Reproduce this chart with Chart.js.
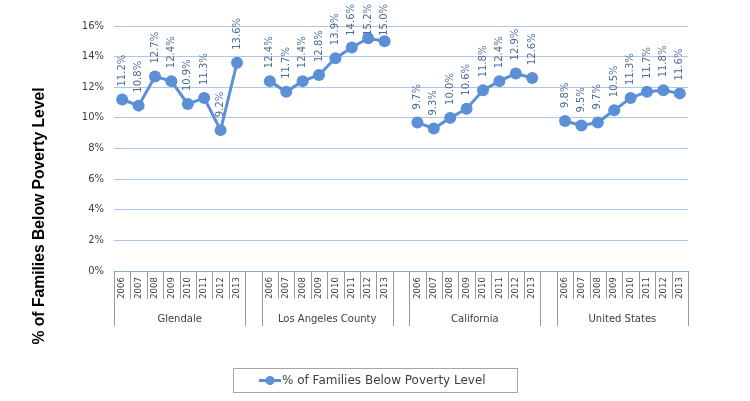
<!DOCTYPE html>
<html>
<head>
<meta charset="utf-8">
<script src="https://cdn.jsdelivr.net/npm/chart.js@4"></script>
<style>
html,body{margin:0;padding:0;background:#fff;}
canvas{display:block;}
</style>
</head>
<body>
<canvas id="c" width="750" height="401"></canvas>
<script>
const groups = ['Glendale', 'Los Angeles County', 'California', 'United States'];
const years = ['2006', '2007', '2008', '2009', '2010', '2011', '2012', '2013'];
const glendale = [11.2, 10.8, 12.7, 12.4, 10.9, 11.3, 9.2, 13.6];
const laCounty = [12.4, 11.7, 12.4, 12.8, 13.9, 14.6, 15.2, 15.0];
const california = [9.7, 9.3, 10.0, 10.6, 11.8, 12.4, 12.9, 12.6];
const unitedStates = [9.8, 9.5, 9.7, 10.5, 11.3, 11.7, 11.8, 11.6];
const yTicks = [0, 2, 4, 6, 8, 10, 12, 14, 16];
const seriesName = '% of Families Below Poverty Level';
const axisTitle = '% of Families Below Poverty Level';

const groupSeries = [glendale, laCounty, california, unitedStates];
const labels = [];
const values = [];
const groupOf = [];
groupSeries.forEach((arr, gi) => {
  years.forEach((y, i) => { labels.push(y); values.push(arr[i]); groupOf.push(gi); });
  if (gi < groupSeries.length - 1) { labels.push(''); values.push(null); groupOf.push(-1); }
});

const LINE = '#5b8fd6';
const LABEL = '#4d6b94';
const TEXT = '#404040';

const customPlugin = {
  id: 'custom',
  afterDatasetsDraw(chart) {
    const ctx = chart.ctx;
    const meta = chart.getDatasetMeta(0);
    ctx.save();
    ctx.fillStyle = LABEL;
    ctx.font = '10px "DejaVu Sans"';
    ctx.textAlign = 'left';
    ctx.textBaseline = 'middle';
    meta.data.forEach((pt, i) => {
      const v = values[i];
      if (v === null || v === undefined) return;
      const txt = v.toFixed(1) + '%';
      const w = ctx.measureText(txt).width;
      const start = Math.max(pt.y - 13, 4 + w);
      ctx.save();
      ctx.translate(pt.x, start);
      ctx.rotate(-Math.PI / 2);
      ctx.fillText(txt, 0, 0);
      ctx.restore();
    });
    ctx.restore();
  },
  afterDraw(chart) {
    const ctx = chart.ctx;
    const xs = chart.scales.x;
    const area = chart.chartArea;
    const n = labels.length;
    const slot = (area.right - area.left) / n;
    const top = area.bottom;
    const yearBottom = top + 28;
    const groupBottom = top + 55;
    ctx.save();
    ctx.strokeStyle = '#9a9a9a';
    ctx.lineWidth = 1;
    for (let i = 0; i <= n; i++) {
      const x = Math.round(xs.getPixelForValue(Math.min(i, n - 1)) + (i === n ? slot / 2 : -slot / 2)) + 0.5;
      const leftIsYear = i > 0 && groupOf[i - 1] >= 0;
      const rightIsYear = i < n && groupOf[i] >= 0;
      const sameGroup = leftIsYear && rightIsYear && groupOf[i - 1] === groupOf[i];
      ctx.beginPath();
      ctx.moveTo(x, top);
      ctx.lineTo(x, sameGroup ? yearBottom : groupBottom);
      ctx.stroke();
    }
    ctx.fillStyle = TEXT;
    ctx.font = '8.5px "DejaVu Sans"';
    ctx.textAlign = 'center';
    ctx.textBaseline = 'middle';
    labels.forEach((lab, i) => {
      if (!lab) return;
      const x = xs.getPixelForValue(i);
      ctx.save();
      ctx.translate(x, top + 17);
      ctx.rotate(-Math.PI / 2);
      ctx.fillText(lab, 0, 0);
      ctx.restore();
    });
    ctx.font = '10px "DejaVu Sans"';
    groups.forEach((g, gi) => {
      const idx = [];
      groupOf.forEach((v, i) => { if (v === gi) idx.push(i); });
      const x0 = xs.getPixelForValue(idx[0]);
      const x1 = xs.getPixelForValue(idx[idx.length - 1]);
      ctx.fillText(g, (x0 + x1) / 2, top + 48);
    });
    ctx.font = 'bold 15.7px "Liberation Sans"';
    ctx.fillStyle = '#000';
    ctx.save();
    ctx.translate(40, 216);
    ctx.rotate(-Math.PI / 2);
    ctx.fillText(axisTitle, 0, 0);
    ctx.restore();
    const lx = 233.5, ly = 368.5, lw = 284, lh = 24;
    ctx.strokeStyle = '#a6a6a6';
    ctx.strokeRect(lx, ly, lw, lh);
    const cy = ly + lh / 2;
    ctx.strokeStyle = LINE;
    ctx.lineWidth = 3;
    ctx.beginPath();
    ctx.moveTo(259, cy);
    ctx.lineTo(281, cy);
    ctx.stroke();
    ctx.fillStyle = LINE;
    ctx.beginPath();
    ctx.arc(270, cy, 4.5, 0, Math.PI * 2);
    ctx.fill();
    ctx.fillStyle = TEXT;
    ctx.font = '12px "DejaVu Sans"';
    ctx.textAlign = 'left';
    ctx.fillText(seriesName, 282, cy + 0.5);
    ctx.restore();
  }
};

new Chart(document.getElementById('c'), {
  type: 'line',
  data: {
    labels: labels,
    datasets: [{
      label: seriesName,
      data: values,
      borderColor: LINE,
      backgroundColor: LINE,
      borderWidth: 3,
      pointRadius: 6,
      pointHoverRadius: 6,
      pointBorderWidth: 0,
      pointBackgroundColor: LINE,
      spanGaps: false,
      tension: 0,
      clip: false
    }]
  },
  options: {
    responsive: false,
    animation: false,
    devicePixelRatio: 1,
    layout: { padding: { top: 26, right: 62, left: 0, bottom: 0 } },
    plugins: { legend: { display: false }, tooltip: { enabled: false } },
    scales: {
      x: {
        type: 'category',
        offset: true,
        grid: { display: false },
        border: { display: true, color: '#8ea9cc', width: 1 },
        ticks: { display: false },
        afterFit(scale) { scale.height = 130; }
      },
      y: {
        min: 0,
        max: 16,
        afterBuildTicks(scale) { scale.ticks = yTicks.map(v => ({ value: v })); },
        grid: { color: '#aac7ec', lineWidth: 1, drawTicks: false },
        border: { display: false },
        ticks: {
          padding: 10,
          color: TEXT,
          font: { family: 'DejaVu Sans', size: 10 },
          callback: v => v + '%'
        },
        afterFit(scale) { scale.width = 114; }
      }
    }
  },
  plugins: [customPlugin]
});
</script>
</body>
</html>
